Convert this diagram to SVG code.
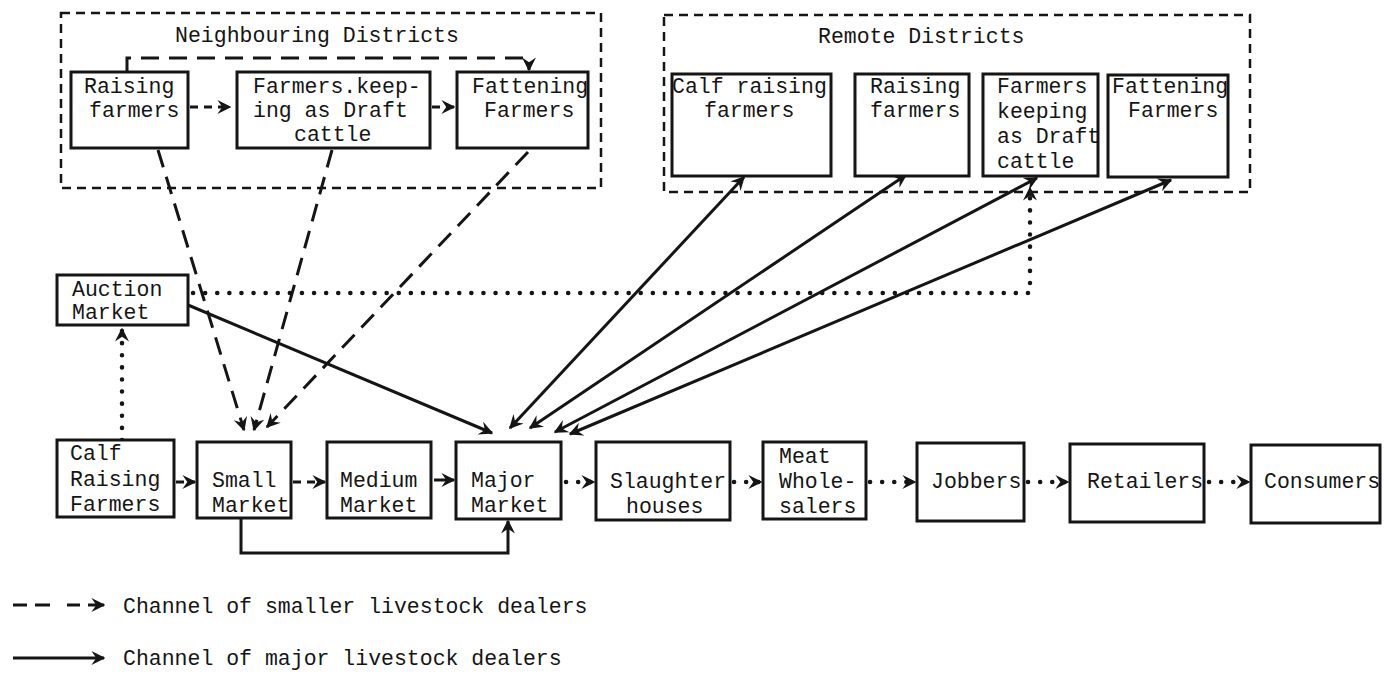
<svg xmlns="http://www.w3.org/2000/svg" width="1386" height="674" viewBox="0 0 1386 674">
<style>
.t{font-family:"Liberation Mono","DejaVu Sans Mono",monospace;font-size:21.5px;fill:#151515}
.box{fill:#fff;stroke:#151515;stroke-width:3}
.region{fill:none;stroke:#151515;stroke-width:2.5;stroke-dasharray:9 6}
.c{fill:none;stroke:#151515;stroke-width:3}
.dash{stroke-dasharray:18 10}
.sdash{stroke-dasharray:8 6}
.dot{stroke-width:4.5;stroke-linecap:round;stroke-dasharray:0.1 12}
.ah{marker-end:url(#arr)}
.dh{marker-start:url(#arr);marker-end:url(#arr)}
</style>
<defs>
<marker id="arr" viewBox="0 0 10 10" refX="9" refY="5" markerWidth="14" markerHeight="14" markerUnits="userSpaceOnUse" orient="auto-start-reverse">
<path d="M0,0 L10,5 L0,10 L3.5,5 Z" fill="#151515"/>
</marker>
</defs>
<rect width="1386" height="674" fill="#fff"/>

<g id="neighbouring-districts">
<rect class="region" x="61" y="13" width="540" height="175"/>
<text class="t" x="317" y="42" text-anchor="middle">Neighbouring Districts</text>
</g>
<g id="remote-districts">
<rect class="region" x="664" y="15" width="586" height="177"/>
<text class="t" x="818" y="43">Remote Districts</text>
</g>

<g id="connectors">
<path class="c dash ah" d="M127,72 V58 H529 V70"/>
<path class="c sdash ah" d="M190,107 H230"/>
<path class="c sdash ah" d="M432,107 H454"/>
<path class="c dash ah" d="M158,150 L244,430"/>
<path class="c dash ah" d="M332,150 L254,430"/>
<path class="c dash ah" d="M528,152 L267,427"/>
<path class="c dot ah" d="M122,440 V329"/>
<path class="c dot ah" d="M193,293 H1030 V188"/>
<path class="c ah" d="M188,305 L492,433"/>
<path class="c dh" d="M510,428 L744,177"/>
<path class="c dh" d="M530,428 L906,175"/>
<path class="c dh" d="M555,432 L1037,178"/>
<path class="c dh" d="M570,434 L1171,180"/>
<path class="c sdash ah" d="M176,482 H195"/>
<path class="c sdash ah" d="M293,482 H325"/>
<path class="c ah" d="M434,480 H454"/>
<path class="c dot ah" d="M566,482 H594"/>
<path class="c dot ah" d="M734,482 H761"/>
<path class="c dot ah" d="M870,482 H915"/>
<path class="c dot ah" d="M1028,482 H1068"/>
<path class="c dot ah" d="M1209,482 H1249"/>
<path class="c ah" d="M241,518 V553 H508 V521"/>
</g>

<g id="n-raising">
<rect class="box" x="71" y="72" width="117" height="76"/>
<text class="t" x="84" y="93">Raising</text>
<text class="t" x="89" y="117">farmers</text>
</g>
<g id="n-draft">
<rect class="box" x="237" y="72" width="193" height="76"/>
<text class="t" x="253" y="93">Farmers.keep-</text>
<text class="t" x="253" y="117">ing as Draft</text>
<text class="t" x="294" y="141">cattle</text>
</g>
<g id="n-fattening">
<rect class="box" x="457" y="72" width="131" height="76"/>
<text class="t" x="472" y="93">Fattening</text>
<text class="t" x="484" y="117">Farmers</text>
</g>

<g id="r-calf">
<rect class="box" x="672" y="74" width="159" height="102"/>
<text class="t" x="672" y="93">Calf raising</text>
<text class="t" x="704" y="117">farmers</text>
</g>
<g id="r-raising">
<rect class="box" x="855" y="74" width="114" height="102"/>
<text class="t" x="870" y="93">Raising</text>
<text class="t" x="870" y="117">farmers</text>
</g>
<g id="r-draft">
<rect class="box" x="983" y="74" width="115" height="102"/>
<text class="t" x="997" y="93">Farmers</text>
<text class="t" x="997" y="118">keeping</text>
<text class="t" x="997" y="143">as Draft</text>
<text class="t" x="997" y="168">cattle</text>
</g>
<g id="r-fattening">
<rect class="box" x="1108" y="75" width="120" height="102"/>
<text class="t" x="1112" y="93">Fattening</text>
<text class="t" x="1128" y="117">Farmers</text>
</g>

<g id="auction">
<rect class="box" x="57" y="275" width="131" height="50"/>
<text class="t" x="72" y="296">Auction</text>
<text class="t" x="72" y="319">Market</text>
</g>

<g id="calf-raising">
<rect class="box" x="57" y="440" width="117" height="77"/>
<text class="t" x="70" y="460">Calf</text>
<text class="t" x="70" y="486">Raising</text>
<text class="t" x="70" y="511">Farmers</text>
</g>
<g id="small">
<rect class="box" x="197" y="442" width="94" height="76"/>
<text class="t" x="212" y="487">Small</text>
<text class="t" x="212" y="512">Market</text>
</g>
<g id="medium">
<rect class="box" x="327" y="442" width="104" height="76"/>
<text class="t" x="340" y="487">Medium</text>
<text class="t" x="340" y="512">Market</text>
</g>
<g id="major">
<rect class="box" x="456" y="442" width="105" height="77"/>
<text class="t" x="471" y="487">Major</text>
<text class="t" x="471" y="512">Market</text>
</g>
<g id="slaughter">
<rect class="box" x="596" y="442" width="134" height="78"/>
<text class="t" x="610" y="488">Slaughter</text>
<text class="t" x="626" y="513">houses</text>
</g>
<g id="wholesalers">
<rect class="box" x="763" y="442" width="103" height="77"/>
<text class="t" x="779" y="463">Meat</text>
<text class="t" x="779" y="488">Whole-</text>
<text class="t" x="779" y="513">salers</text>
</g>
<g id="jobbers">
<rect class="box" x="917" y="443" width="107" height="78"/>
<text class="t" x="931" y="488">Jobbers</text>
</g>
<g id="retailers">
<rect class="box" x="1070" y="444" width="134" height="78"/>
<text class="t" x="1087" y="488">Retailers</text>
</g>
<g id="consumers">
<rect class="box" x="1251" y="445" width="129" height="78"/>
<text class="t" x="1264" y="488">Consumers</text>
</g>

<g id="legend">
<path class="c" d="M13,605 H27 M35,605 H50 M67,605 H80"/>
<path class="c ah" d="M88,605 H104"/>
<text class="t" x="123" y="613">Channel of smaller livestock dealers</text>
<path class="c ah" d="M13,658 H104"/>
<text class="t" x="123" y="665">Channel of major livestock dealers</text>
</g>
</svg>
